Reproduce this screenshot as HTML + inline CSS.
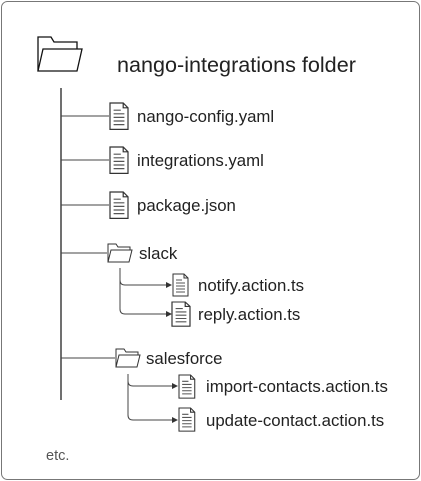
<!DOCTYPE html>
<html><head><style>
body{margin:0;width:421px;height:481px;background:#fff;font-family:"Liberation Sans",sans-serif;}
svg{position:absolute;left:0;top:0}
text{font-family:"Liberation Sans",sans-serif;fill:#222}
</style></head><body>
<svg width="421" height="481" viewBox="0 0 421 481">
<defs>
<g id="doc"><path d="M0 0 H11 L15 4 V22 H0 Z M11 0 V4 H15" fill="#fff" stroke="#333" stroke-width="1"/>
<path d="M3 6h6M3 9h9M3 12h9M3 15h9M3 18h9" stroke="#555" stroke-width="1"/></g>
<g id="fold"><path d="M0 18 V0 H8 L10 3 H22 V6" fill="none" stroke="#333" stroke-width="1"/>
<path d="M0 18 L3 6 H24 L21 18 Z" fill="#fff" stroke="#333" stroke-width="1"/></g>
<marker id="ar" markerWidth="6" markerHeight="6" refX="5" refY="3" orient="auto"><path d="M0 0 L6 3 L0 6Z" fill="#333"/></marker>
</defs>
<rect x="1.5" y="1.5" width="418" height="478" rx="6" fill="#fff" stroke="#777"/>
<g transform="translate(37,37)"><path d="M1 34 V0 H14 L17 5 H40 V12" fill="none" stroke="#111" stroke-width="1.3"/>
<path d="M1 34 L6 12 H45 L40 34 Z" fill="#fff" stroke="#111" stroke-width="1.3"/></g>
<text x="117" y="72" font-size="21.6">nango-integrations folder</text>
<line x1="61" y1="88" x2="61" y2="400" stroke="#111" stroke-width="1.2"/>
<g stroke="#444" stroke-width="1" fill="none">
<line x1="61" y1="116" x2="109" y2="116"/>
<line x1="61" y1="160" x2="109" y2="160"/>
<line x1="61" y1="205" x2="109" y2="205"/>
<line x1="61" y1="253" x2="107" y2="253"/>
<line x1="61" y1="358" x2="115" y2="358"/>
<path d="M120 268 V280 Q120 285 125 285 H171" marker-end="url(#ar)"/>
<path d="M120 280 V309 Q120 314 125 314 H171" marker-end="url(#ar)"/>
<path d="M128 374 V381 Q128 386 133 386 H177" marker-end="url(#ar)"/>
<path d="M128 381 V415 Q128 420 133 420 H177" marker-end="url(#ar)"/>
</g>
<use href="#doc" transform="translate(110,103) scale(1.2)"/>
<use href="#doc" transform="translate(110,147) scale(1.2)"/>
<use href="#doc" transform="translate(110,192) scale(1.2)"/>
<text x="137" y="122" font-size="16.8">nango-config.yaml</text>
<text x="137" y="166" font-size="16.8">integrations.yaml</text>
<text x="137" y="211" font-size="16.8">package.json</text>
<use href="#fold" transform="translate(108,244)"/>
<text x="139" y="259" font-size="16.8">slack</text>
<use href="#doc" transform="translate(173,274)"/>
<use href="#doc" transform="translate(172,302) scale(1.2,1.1)"/>
<text x="198" y="291" font-size="16.8">notify.action.ts</text>
<text x="198" y="320" font-size="16.8">reply.action.ts</text>
<use href="#fold" transform="translate(116,349)"/>
<text x="146" y="364" font-size="16.8">salesforce</text>
<use href="#doc" transform="translate(179,375) scale(1.05)"/>
<use href="#doc" transform="translate(179,408) scale(1.05)"/>
<text x="206" y="392" font-size="16.8">import-contacts.action.ts</text>
<text x="206" y="426" font-size="16.8">update-contact.action.ts</text>
<text x="46" y="460" font-size="14.5" style="fill:#555">etc.</text>
</svg>
</body></html>
